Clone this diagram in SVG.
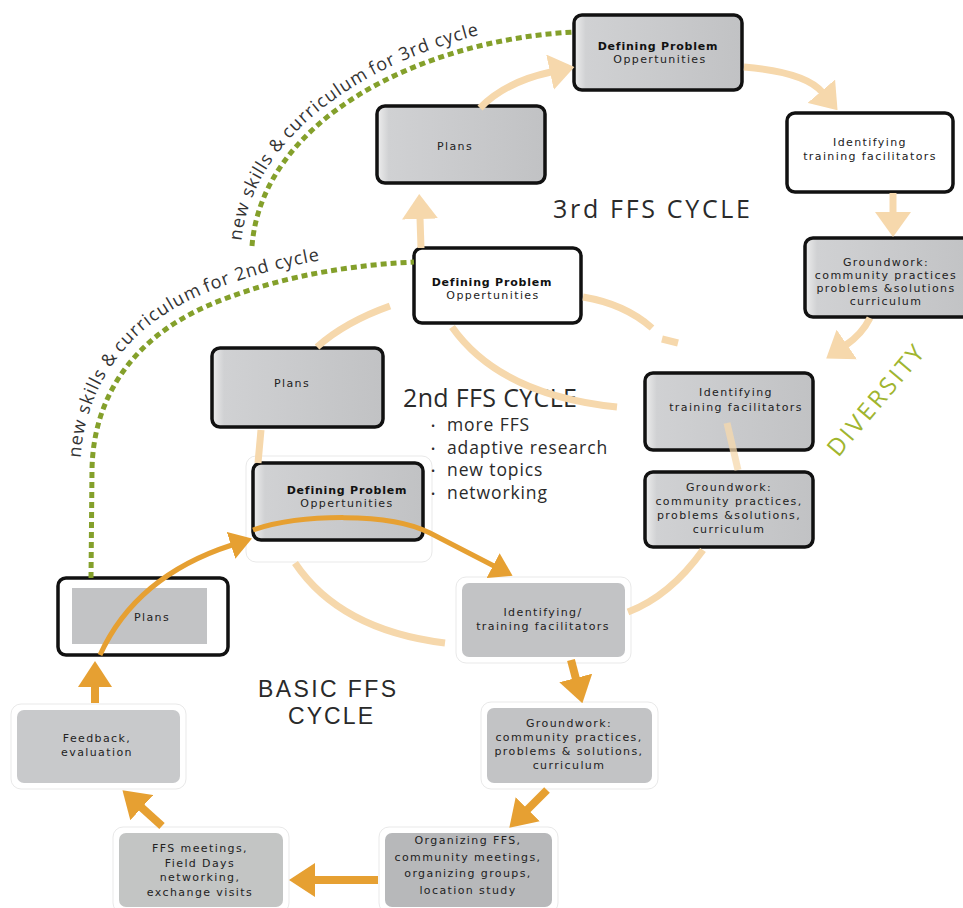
<svg xmlns="http://www.w3.org/2000/svg" width="963" height="908" viewBox="0 0 963 908">
  <style>
    .box { stroke:#111; stroke-width:3.5; }
    .gray { fill:url(#gbox); }
    .white { fill:#ffffff; }
    .flat { fill:#c2c3c5; }
    .halo { fill:#ffffff; stroke:#e9e9e9; stroke-width:1; }
    .t { font-family:"DejaVu Sans", "Liberation Sans", sans-serif; font-size:11px; letter-spacing:1.4px; fill:#222; text-anchor:middle; }
    .b { font-weight:bold; letter-spacing:0.8px; fill:#111; }
    .title { font-family:"Open Sans", "Liberation Sans", sans-serif; font-size:25px; fill:#2a2a2a; }
    .bul { font-family:"Open Sans", "Liberation Sans", sans-serif; font-size:17.5px; letter-spacing:0.9px; fill:#2a2a2a; }
    .dot { font-size:11px; }
    .arc { font-family:"Open Sans", "Liberation Sans", sans-serif; font-size:18px; fill:#333; }
    .green { fill:none; stroke:#84a02b; stroke-width:5; stroke-dasharray:6 4; }
    .orange { fill:none; stroke:#e6a032; stroke-width:5; }
    .orangeS { fill:none; stroke:#e6a032; stroke-width:8; }
    .light { fill:none; stroke:#f6d8ac; stroke-width:7; }
  </style>
  <defs>
    <linearGradient id="gbox" x1="0" y1="0" x2="1" y2="0">
      <stop offset="0" stop-color="#eeeeee"/>
      <stop offset="0.07" stop-color="#d0d1d3"/>
      <stop offset="1" stop-color="#c1c2c4"/>
    </linearGradient>
    <marker id="headA" markerUnits="userSpaceOnUse" viewBox="0 0 22 28" markerWidth="22" markerHeight="28" refX="1" refY="14" orient="auto">
      <path d="M0,0 L22,14 L0,28 z" fill="#e6a032"/>
    </marker>
    <marker id="headB" markerUnits="userSpaceOnUse" viewBox="0 0 26 34" markerWidth="26" markerHeight="34" refX="1" refY="17" orient="auto">
      <path d="M0,0 L26,17 L0,34 z" fill="#e6a032"/>
    </marker>
    <marker id="headL" markerUnits="userSpaceOnUse" viewBox="0 0 25 36" markerWidth="25" markerHeight="36" refX="1" refY="18" orient="auto">
      <path d="M0,0 L25,18 L0,36 z" fill="#f6d8ac"/>
    </marker>
    <path id="tp2" d="M79,583 L80,470 C 81,395 120,330 201,295 C 256,271 328,254 414,250"/>
    <path id="tp3" d="M241,245 C 251,115 418,29 573,21"/>
  </defs>

  <rect width="963" height="908" fill="#ffffff"/>

  <!-- 3rd cycle -->
  <g id="n3-defining">
    <rect class="box gray" x="574" y="15" width="168" height="75" rx="8"/>
    <text class="t"><tspan class="b" x="658" y="50">Defining Problem</tspan><tspan x="660" y="63">Oppertunities</tspan></text>
  </g>
  <g id="n3-plans">
    <rect class="box gray" x="377" y="106" width="168" height="77" rx="8"/>
    <text class="t" x="455" y="150">Plans</text>
  </g>
  <g id="n3-identifying">
    <rect class="box white" x="787" y="113" width="166" height="79" rx="8"/>
    <text class="t"><tspan x="870" y="146">Identifying</tspan><tspan x="870" y="160">training facilitators</tspan></text>
  </g>
  <g id="n3-groundwork">
    <rect class="box gray" x="805" y="238" width="172" height="79" rx="8"/>
    <text class="t"><tspan x="886" y="266">Groundwork:</tspan><tspan x="886" y="279">community practices</tspan><tspan x="886" y="292">problems &amp;solutions</tspan><tspan x="886" y="305">curriculum</tspan></text>
  </g>

  <!-- 2nd cycle -->
  <g id="n2-defining">
    <rect class="box white" x="414" y="248" width="167" height="75" rx="8"/>
    <text class="t"><tspan class="b" x="492" y="286">Defining Problem</tspan><tspan x="493" y="299">Oppertunities</tspan></text>
  </g>
  <g id="n2-plans">
    <rect class="box gray" x="212" y="348" width="171" height="79" rx="8"/>
    <text class="t" x="292" y="387">Plans</text>
  </g>
  <g id="n2-identifying">
    <rect class="box gray" x="645" y="373" width="168" height="77" rx="8"/>
    <text class="t"><tspan x="736" y="396">Identifying</tspan><tspan x="736" y="411">training facilitators</tspan></text>
  </g>
  <g id="n2-groundwork">
    <rect class="box gray" x="645" y="472" width="168" height="75" rx="8"/>
    <text class="t"><tspan x="729" y="491">Groundwork:</tspan><tspan x="729" y="505">community practices,</tspan><tspan x="729" y="519">problems &amp;solutions,</tspan><tspan x="729" y="533">curriculum</tspan></text>
  </g>

  <!-- basic cycle -->
  <g id="n1-defining">
    <rect class="halo" x="246" y="456" width="186" height="106" rx="10"/>
    <rect class="box gray" x="253" y="463" width="170" height="77" rx="8"/>
    <text class="t"><tspan class="b" x="347" y="494">Defining Problem</tspan><tspan x="347" y="507">Oppertunities</tspan></text>
  </g>
  <g id="n1-plans">
    <rect class="box white" x="58" y="578" width="170" height="77" rx="8"/>
    <rect x="72" y="588" width="135" height="56" fill="#c2c3c5"/>
    <text class="t" x="152" y="621">Plans</text>
  </g>
  <g id="n1-identifying">
    <rect class="halo" x="456" y="577" width="175" height="86" rx="10"/>
    <rect class="flat" x="462" y="583" width="163" height="74" rx="7"/>
    <text class="t"><tspan x="543" y="616">Identifying/</tspan><tspan x="543" y="629.5">training facilitators</tspan></text>
  </g>
  <g id="n1-groundwork">
    <rect class="halo" x="481" y="702" width="177" height="87" rx="10"/>
    <rect class="flat" x="487" y="708" width="165" height="75" rx="7"/>
    <text class="t"><tspan x="569" y="727">Groundwork:</tspan><tspan x="569" y="741">community practices,</tspan><tspan x="569" y="755">problems &amp; solutions,</tspan><tspan x="569" y="769">curriculum</tspan></text>
  </g>
  <g id="n1-organizing">
    <rect class="halo" x="379" y="827" width="179" height="86" rx="10"/>
    <rect x="385" y="833" width="167" height="74" rx="7" fill="#b7b8ba"/>
    <text class="t"><tspan x="468" y="844">Organizing FFS,</tspan><tspan x="468" y="861">community meetings,</tspan><tspan x="468" y="877">organizing groups,</tspan><tspan x="468" y="894">location study</tspan></text>
  </g>
  <g id="n1-meetings">
    <rect class="halo" x="113" y="827" width="176" height="86" rx="10"/>
    <rect x="119" y="833" width="164" height="74" rx="7" fill="#c3c5c4"/>
    <text class="t"><tspan x="200" y="852">FFS meetings,</tspan><tspan x="200" y="866.5">Field Days</tspan><tspan x="200" y="881">networking,</tspan><tspan x="200" y="895.5">exchange visits</tspan></text>
  </g>
  <g id="n1-feedback">
    <rect class="halo" x="11" y="704" width="175" height="85" rx="10"/>
    <rect x="17" y="710" width="163" height="73" rx="7" fill="#c8c9cb"/>
    <text class="t"><tspan x="97" y="742">Feedback,</tspan><tspan x="97" y="755.5">evaluation</tspan></text>
  </g>

  <!-- labels -->
  <g id="labels">
    <text class="title" x="553" y="218" textLength="197" lengthAdjust="spacing">3rd FFS CYCLE</text>
    <text class="title" x="403" y="407" font-size="24" textLength="174" lengthAdjust="spacing">2nd FFS CYCLE</text>
    <text class="bul"><tspan class="dot" x="431" y="430">•</tspan><tspan x="447" y="431">more FFS</tspan><tspan class="dot" x="431" y="452.5">•</tspan><tspan x="447" y="453.5">adaptive research</tspan><tspan class="dot" x="431" y="475">•</tspan><tspan x="447" y="476">new topics</tspan><tspan class="dot" x="431" y="497.5">•</tspan><tspan x="447" y="498.5">networking</tspan></text>
    <text font-family="Liberation Sans, Arial, sans-serif" font-size="23" fill="#2a2a2a"><tspan x="258" y="697" textLength="138" lengthAdjust="spacing">BASIC FFS</tspan><tspan x="288" y="724" textLength="85" lengthAdjust="spacing">CYCLE</tspan></text>
    <text transform="translate(882,406) rotate(-50)" text-anchor="middle" font-family="Open Sans, Liberation Sans, sans-serif" font-size="24" fill="#a0b52f" textLength="136" lengthAdjust="spacing">DIVERSITY</text>
    <text class="arc"><textPath href="#tp2" startOffset="125" textLength="109" lengthAdjust="spacing">new skills &amp;</textPath></text>
    <text class="arc"><textPath href="#tp2" startOffset="239" textLength="101" lengthAdjust="spacing">curriculum</textPath></text>
    <text class="arc"><textPath href="#tp2" startOffset="345" textLength="118" lengthAdjust="spacing">for 2nd cycle</textPath></text>
    <text class="arc"><textPath href="#tp3" startOffset="4" textLength="109" lengthAdjust="spacing">new skills &amp;</textPath></text>
    <text class="arc"><textPath href="#tp3" startOffset="118" textLength="101" lengthAdjust="spacing">curriculum</textPath></text>
    <text class="arc"><textPath href="#tp3" startOffset="224" textLength="114" lengthAdjust="spacing">for 3rd cycle</textPath></text>
  </g>

  <g id="connectors">
    <!-- knowledge carried into the next cycle -->
    <path class="green" d="M91,578 L92,470 C 93,400 130,340 207,306 C 260,283 330,266 414,262"/>
    <path class="green" d="M252,246 C 262,120 420,40 574,32"/>

    <!-- later cycles -->
    <path class="light" d="M421,248 L420,218" marker-end="url(#headL)"/>
    <path class="light" d="M480,108 Q505,82 551,72" marker-end="url(#headL)"/>
    <path class="light" d="M744,67 Q805,72 822,92" marker-end="url(#headL)"/>
    <path class="light" d="M893,193 L893,213" marker-end="url(#headL)"/>
    <path class="light" d="M870,318 Q862,334 846,345" marker-end="url(#headL)"/>
    <path class="light" d="M583,297 Q625,304 652,328"/>
    <path class="light" d="M662,339 L678,343"/>
    <path class="light" d="M452,327 Q500,395 617,407"/>
    <path class="light" d="M317,347 Q345,322 390,306"/>
    <path class="light" d="M258,463 L261,430"/>
    <path class="light" d="M727,423 L738,470" opacity="0.75"/>
    <path class="light" d="M295,563 Q340,630 445,643"/>
    <path class="light" d="M628,612 Q670,596 703,550"/>

    <!-- basic cycle -->
    <path class="orange" d="M100,655 C 125,600 170,565 232,545" marker-end="url(#headA)"/>
    <path class="orange" d="M253,530 C 300,514 390,512 430,533 C 455,546 475,556 494,566" marker-end="url(#headA)"/>
    <path class="orangeS" d="M571,660 L576,679" marker-end="url(#headB)"/>
    <path class="orangeS" d="M547,790 L527,810" marker-end="url(#headB)"/>
    <path class="orangeS" d="M378,880 L314,880" marker-end="url(#headB)"/>
    <path class="orangeS" d="M162,826 L141,807" marker-end="url(#headB)"/>
    <path class="orangeS" d="M95,703 L95,686" marker-end="url(#headB)"/>
  </g>
</svg>
